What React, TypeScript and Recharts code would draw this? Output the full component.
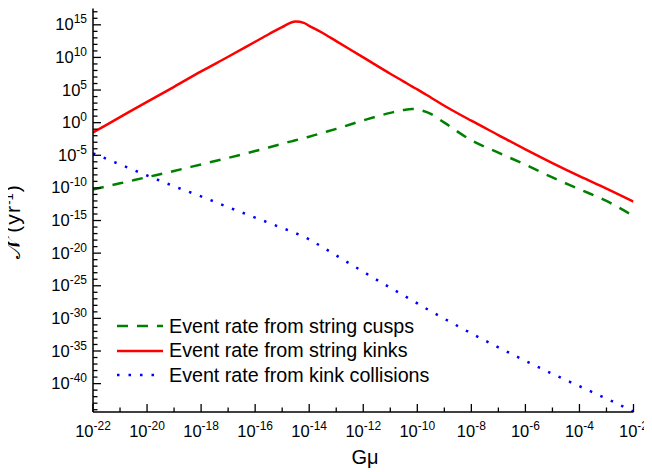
import React from 'react';
import { LineChart, Line, XAxis, YAxis, Legend } from 'recharts';

// log10(Gμ) sample points
const gMuExp = [
  -22, -21, -20, -19, -18, -17, -16, -15.5, -15, -14.7, -14.5, -14.2, -14, -13.5, -13,
  -12, -11, -10.5, -10.2, -10, -9.5, -9, -8, -7, -6, -5, -4, -3, -2,
];

// log10 of the event rates (yr^-1)
const cuspRate = [
  -10.25, -9.3, -8.35, -7.4, -6.4, -5.4, -4.35, -3.8, -3.25, -2.9, -2.7, -2.35, -2.15, -1.55, -0.95,
  0.35, 1.5, 1.95, 2.1, 2.0, 1.35, 0.0, -2.7, -4.6, -6.45, -8.4, -10.2, -12.0, -14.3,
];
const kinkRate = [
  -1.5, 0.85, 3.2, 5.5, 7.85, 10.1, 12.4, 13.55, 14.65, 15.3, 15.5, 15.3, 14.85, 13.75, 12.5,
  10.0, 7.5, 6.3, 5.55, 5.1, 3.85, 2.6, 0.3, -1.9, -4.1, -6.2, -8.2, -10.1, -12.1,
];
const collisionRate = [
  -4.7, -6.4, -8.1, -9.75, -11.3, -12.95, -14.55, -15.35, -16.15, -16.6, -16.95, -17.5, -17.9, -19.1, -20.35,
  -22.85, -25.3, -26.5, -27.2, -27.7, -28.9, -30.05, -32.3, -34.45, -36.5, -38.5, -40.4, -42.3, -44.3,
];

const range = (a: number, b: number) => Array.from({ length: b - a + 1 }, (_, i) => a + i);
const xTicks = range(-22, -2);
const yTicks = range(-44, 17);

const series = [
  { key: 'cusps', name: 'Event rate from string cusps', color: '#008000', dash: '11 9' },
  { key: 'kinks', name: 'Event rate from string kinks', color: '#ff0000', dash: undefined },
  { key: 'collisions', name: 'Event rate from kink collisions', color: '#0000ff', dash: '2.5 9' },
];

const data = gMuExp.map((x, i) => ({
  x,
  cusps: cuspRate[i],
  kinks: kinkRate[i],
  collisions: collisionRate[i],
}));

const FONT = '"Liberation Sans", Arial, Helvetica, sans-serif';

function BottomTick({ x, y, payload }: any) {
  const v = payload.value;
  const major = v % 2 === 0;
  return (
    <g>
      <line x1={x} y1={y} x2={x} y2={y - (major ? 8 : 4.5)} stroke="#000" strokeWidth={1.3} />
      {major && (
        <text x={x} y={y + 25} textAnchor="middle" fontFamily={FONT} fontSize={16.5} fill="#000">
          10<tspan dy={-7} fontSize={12}>{v}</tspan>
        </text>
      )}
    </g>
  );
}

function TopTick({ x, y, payload }: any) {
  const major = payload.value % 2 === 0;
  return <line x1={x} y1={y} x2={x} y2={y + (major ? 8 : 4.5)} stroke="#000" strokeWidth={1.3} />;
}

function LeftTick({ x, y, payload }: any) {
  const v = payload.value;
  const major = v % 5 === 0;
  return (
    <g>
      <line x1={x} y1={y} x2={x + (major ? 8 : 4.5)} y2={y} stroke="#000" strokeWidth={1.3} />
      {major && (
        <text x={x - 6} y={y + 5.5} textAnchor="end" fontFamily={FONT} fontSize={16.5} fill="#000">
          10<tspan dy={-7} fontSize={12}>{v}</tspan>
        </text>
      )}
    </g>
  );
}

function RightTick({ x, y, payload }: any) {
  const major = payload.value % 5 === 0;
  return <line x1={x} y1={y} x2={x - (major ? 8 : 4.5)} y2={y} stroke="#000" strokeWidth={1.3} />;
}

// rotated title; the svg starts at the page's left edge
function YTitle() {
  const cx = 20;
  const cy = 214;
  return (
    <text
      x={cx}
      y={cy}
      transform={`rotate(-90, ${cx}, ${cy})`}
      textAnchor="middle"
      fontFamily={FONT}
      fontSize={21}
      fill="#000"
    >
      <tspan>{'\u{1D4A9}\u0307'}</tspan>
      <tspan dx={6} letterSpacing={1.2}>(yr</tspan>
      <tspan dy={-7} fontSize={13}>-1</tspan>
      <tspan dy={7} dx={1}>)</tspan>
    </text>
  );
}

function XTitle() {
  return (
    <text x={365} y={456} textAnchor="middle" fontFamily={FONT} fontSize={20} fill="#000">
      Gμ
    </text>
  );
}

function renderLegend() {
  return (
    <div style={{ fontFamily: FONT, fontSize: 19.7, color: '#000' }}>
      {series.map((s) => (
        <div key={s.key} style={{ display: 'flex', alignItems: 'center', height: 24.5, whiteSpace: 'nowrap' }}>
          <svg width={46} height={6} style={{ marginRight: 6 }}>
            <line x1={0} y1={3} x2={46} y2={3} stroke={s.color} strokeWidth={2.5} strokeDasharray={s.dash} />
          </svg>
          <span>{s.name}</span>
        </div>
      ))}
    </div>
  );
}

export default function App() {
  const axisLine = { stroke: '#000', strokeWidth: 1.5 };
  return (
    <div style={{ marginLeft: -8 }}>
      <LineChart width={652} height={462} data={data} margin={{ top: 0.5, right: 18.5, bottom: 8, left: 23 }}>
        <XAxis
          dataKey="x"
          type="number"
          domain={[-22, -2]}
          allowDataOverflow
          ticks={xTicks}
          interval={0}
          tickSize={0}
          tickMargin={0}
          tickLine={false}
          axisLine={axisLine}
          tick={<BottomTick />}
          height={50}
          label={<XTitle />}
        />
        <XAxis
          xAxisId="top"
          orientation="top"
          dataKey="x"
          type="number"
          domain={[-22, -2]}
          allowDataOverflow
          ticks={xTicks}
          interval={0}
          tickSize={0}
          tickMargin={0}
          tickLine={false}
          axisLine={axisLine}
          tick={<TopTick />}
          height={0}
        />
        <YAxis
          type="number"
          domain={[-44.35, 17.5]}
          allowDataOverflow
          ticks={yTicks}
          interval={0}
          tickSize={0}
          tickMargin={0}
          tickLine={false}
          axisLine={axisLine}
          tick={<LeftTick />}
          width={70}
          label={<YTitle />}
        />
        <YAxis
          yAxisId="right"
          orientation="right"
          type="number"
          domain={[-44.35, 17.5]}
          allowDataOverflow
          ticks={yTicks}
          interval={0}
          tickSize={0}
          tickMargin={0}
          tickLine={false}
          axisLine={axisLine}
          tick={<RightTick />}
          width={0}
        />
        <Legend
          layout="vertical"
          align="center"
          verticalAlign="middle"
          content={renderLegend}
          wrapperStyle={{ left: 117, top: 306, width: 'auto', height: 'auto' }}
        />
        {series.map((s) => (
          <Line
            key={s.key}
            dataKey={s.key}
            name={s.name}
            type="monotone"
            stroke={s.color}
            strokeWidth={2.5}
            strokeDasharray={s.dash}
            dot={false}
            activeDot={false}
            isAnimationActive={false}
          />
        ))}
      </LineChart>
    </div>
  );
}
